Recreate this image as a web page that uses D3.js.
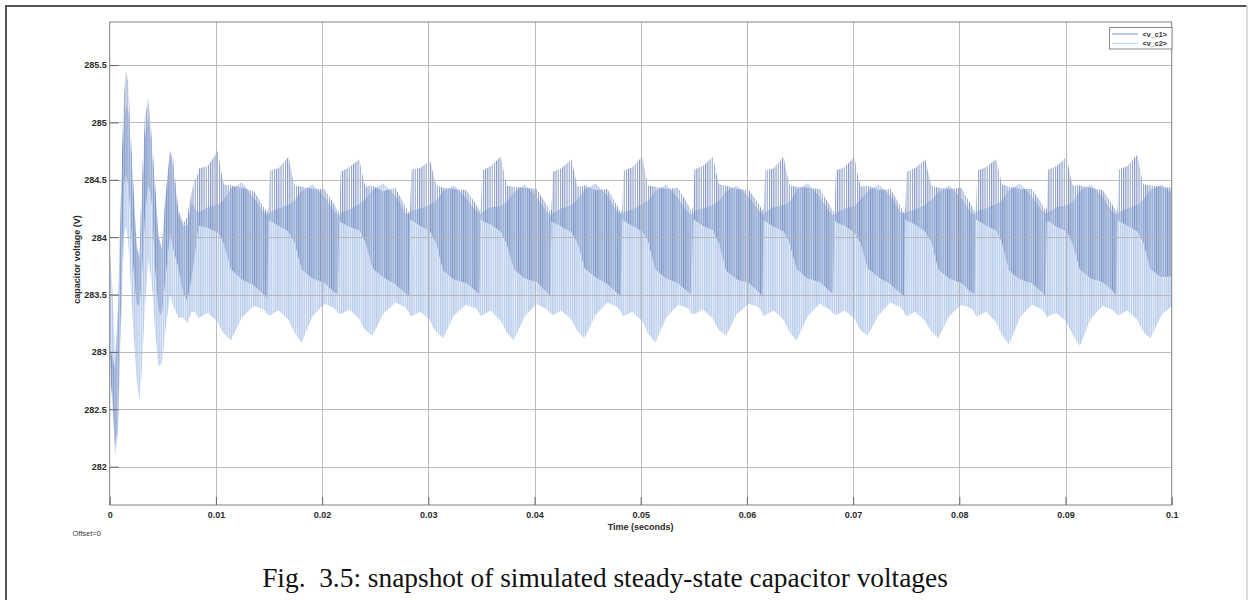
<!DOCTYPE html>
<html><head><meta charset="utf-8">
<script src="https://cdn.jsdelivr.net/npm/d3@7"></script>
<style>body{margin:0;background:#fff} svg{display:block}</style>
</head><body>
<svg id="c" width="1249" height="600"></svg>
<script>
// ---- data (envelopes of the switching ripple) ----
const time = [
 0.00000,0.00026,0.00050,0.00078,0.00097,0.00116,0.00135,0.00153,0.00175,0.00191,0.00222,0.00254,0.00279,0.00301,
 0.00332,0.00363,0.00395,0.00427,0.00458,0.00490,0.00521,0.00568,0.00599,0.00646,0.00693,0.00731,0.00772,0.00803,
 0.00830,0.00844,0.00924,0.01018,0.01047,0.01075,0.01141,0.01244,0.01357,0.01451,0.01484,
 0.01496,0.01510,0.01590,0.01684,0.01713,0.01741,0.01807,0.01910,0.02023,0.02117,0.02150,
 0.02162,0.02176,0.02256,0.02350,0.02379,0.02407,0.02473,0.02576,0.02689,0.02783,0.02816,
 0.02828,0.02842,0.02922,0.03016,0.03045,0.03073,0.03139,0.03242,0.03355,0.03449,0.03482,
 0.03494,0.03508,0.03588,0.03682,0.03711,0.03739,0.03805,0.03908,0.04021,0.04115,0.04148,
 0.04160,0.04174,0.04254,0.04348,0.04377,0.04405,0.04471,0.04574,0.04687,0.04781,0.04814,
 0.04826,0.04840,0.04920,0.05014,0.05043,0.05071,0.05137,0.05240,0.05353,0.05447,0.05480,
 0.05492,0.05506,0.05586,0.05680,0.05709,0.05737,0.05803,0.05906,0.06019,0.06113,0.06146,
 0.06158,0.06172,0.06252,0.06346,0.06375,0.06403,0.06469,0.06572,0.06685,0.06779,0.06812,
 0.06825,0.06839,0.06919,0.07013,0.07042,0.07070,0.07136,0.07239,0.07352,0.07446,0.07479,
 0.07491,0.07505,0.07585,0.07679,0.07708,0.07736,0.07802,0.07905,0.08018,0.08112,0.08145,
 0.08157,0.08171,0.08251,0.08345,0.08374,0.08402,0.08468,0.08571,0.08684,0.08778,0.08811,
 0.08823,0.08837,0.08917,0.09011,0.09040,0.09068,0.09134,0.09237,0.09350,0.09444,0.09477,
 0.09489,0.09503,0.09583,0.09677,0.09706,0.09734,0.09800,0.09903,0.10000
];
const vc1Max = [
 283.05,282.95,282.85,283.30,284.05,284.75,285.25,285.45,285.35,285.05,284.47,283.90,283.85,284.47,
 285.05,285.21,284.90,284.47,284.03,283.90,284.32,284.76,284.67,284.24,284.12,284.18,284.40,284.50,
 284.55,284.60,284.62,284.75,284.58,284.46,284.45,284.43,284.40,284.26,284.22,
 284.25,284.58,284.60,284.70,284.56,284.45,284.44,284.42,284.42,284.28,284.22,
 284.24,284.57,284.61,284.68,284.55,284.44,284.45,284.40,284.43,284.27,284.21,
 284.25,284.59,284.60,284.67,284.56,284.46,284.43,284.42,284.41,284.29,284.23,
 284.26,284.58,284.62,284.70,284.57,284.45,284.44,284.43,284.42,284.28,284.22,
 284.24,284.57,284.60,284.68,284.55,284.44,284.45,284.41,284.42,284.27,284.21,
 284.25,284.58,284.61,284.70,284.56,284.45,284.44,284.42,284.43,284.28,284.22,
 284.26,284.59,284.62,284.70,284.57,284.46,284.45,284.42,284.41,284.29,284.23,
 284.25,284.58,284.60,284.70,284.56,284.45,284.44,284.43,284.42,284.28,284.22,
 284.24,284.58,284.61,284.70,284.55,284.44,284.45,284.41,284.42,284.27,284.21,
 284.25,284.57,284.60,284.68,284.56,284.45,284.43,284.42,284.43,284.28,284.22,
 284.26,284.58,284.61,284.68,284.57,284.46,284.44,284.42,284.42,284.29,284.23,
 284.25,284.59,284.62,284.70,284.56,284.45,284.45,284.43,284.41,284.28,284.22,
 284.25,284.59,284.62,284.72,284.57,284.46,284.45,284.44,284.43
];
const vc1Min = [
 282.85,282.55,282.17,282.35,283.05,283.75,284.45,284.55,284.45,284.25,283.74,283.42,283.40,283.60,
 284.18,284.47,284.30,283.74,283.37,283.31,283.60,284.03,283.89,283.74,283.50,283.45,283.65,283.85,
 284.05,284.10,284.08,284.04,284.00,283.94,283.72,283.63,283.58,283.50,283.47,
 284.15,284.14,284.10,284.05,284.00,283.95,283.72,283.64,283.60,283.52,283.50,
 284.14,284.13,284.09,284.06,284.01,283.96,283.73,283.65,283.59,283.51,283.49,
 284.15,284.15,284.10,284.05,284.00,283.95,283.71,283.63,283.60,283.53,283.50,
 284.16,284.14,284.11,284.05,283.99,283.94,283.72,283.64,283.61,283.52,283.48,
 284.14,284.13,284.09,284.04,284.00,283.95,283.73,283.65,283.59,283.51,283.49,
 284.15,284.14,284.10,284.05,284.01,283.96,283.72,283.64,283.60,283.52,283.50,
 284.15,284.15,284.10,284.06,284.00,283.95,283.71,283.63,283.60,283.52,283.48,
 284.14,284.14,284.09,284.05,284.00,283.94,283.72,283.64,283.61,283.53,283.50,
 284.15,284.13,284.10,284.04,283.99,283.95,283.73,283.65,283.59,283.51,283.49,
 284.16,284.14,284.11,284.05,284.00,283.96,283.72,283.64,283.60,283.52,283.50,
 284.15,284.15,284.10,284.06,284.01,283.95,283.71,283.63,283.60,283.52,283.48,
 284.14,284.14,284.09,284.05,284.00,283.94,283.72,283.64,283.61,283.53,283.49,
 284.15,284.14,284.10,284.05,284.00,283.95,283.72,283.65,283.66
];
const vc2Max = [
 283.90,283.55,282.95,283.40,284.10,284.60,285.00,285.15,285.10,284.90,284.40,283.95,283.80,284.30,
 284.85,285.05,284.80,284.40,284.00,283.90,284.30,284.75,284.60,284.20,284.10,284.10,284.30,284.25,
 284.22,284.22,284.26,284.28,284.30,284.33,284.42,284.48,284.34,284.22,284.19,
 284.20,284.22,284.25,284.28,284.30,284.32,284.40,284.46,284.35,284.22,284.20,
 284.19,284.21,284.24,284.29,284.31,284.33,284.41,284.47,284.36,284.21,284.20,
 284.21,284.23,284.25,284.28,284.30,284.32,284.40,284.45,284.34,284.23,284.21,
 284.20,284.22,284.26,284.27,284.29,284.31,284.39,284.46,284.35,284.22,284.19,
 284.20,284.21,284.25,284.28,284.30,284.33,284.41,284.47,284.36,284.22,284.20,
 284.21,284.22,284.24,284.29,284.31,284.32,284.40,284.46,284.34,284.21,284.20,
 284.20,284.23,284.25,284.28,284.30,284.32,284.40,284.45,284.35,284.23,284.21,
 284.19,284.22,284.26,284.28,284.29,284.31,284.41,284.47,284.35,284.22,284.19,
 284.20,284.21,284.25,284.27,284.30,284.33,284.40,284.46,284.36,284.22,284.20,
 284.21,284.22,284.24,284.28,284.31,284.32,284.39,284.45,284.34,284.21,284.20,
 284.20,284.23,284.25,284.29,284.30,284.32,284.41,284.47,284.35,284.23,284.21,
 284.20,284.22,284.26,284.28,284.29,284.31,284.40,284.46,284.35,284.22,284.19,
 284.21,284.22,284.25,284.28,284.30,284.33,284.41,284.46,284.38
];
const vc2Min = [
 283.00,282.60,282.09,282.30,282.95,283.50,284.00,284.10,283.95,283.70,283.20,282.75,282.58,282.80,
 283.40,283.80,283.60,283.20,282.87,282.90,283.15,283.50,283.40,283.30,283.30,283.25,283.35,283.35,
 283.30,283.30,283.34,283.26,283.20,283.16,283.10,283.30,283.40,283.37,283.33,
 283.32,283.32,283.36,283.28,283.22,283.17,283.08,283.31,283.42,283.38,283.34,
 283.33,283.33,283.37,283.29,283.23,283.19,283.14,283.33,283.43,283.39,283.35,
 283.32,283.31,283.35,283.28,283.21,283.18,283.12,283.32,283.41,283.38,283.33,
 283.31,283.32,283.36,283.27,283.22,283.17,283.10,283.31,283.42,283.37,283.34,
 283.33,283.32,283.36,283.28,283.23,283.18,283.12,283.32,283.43,283.39,283.35,
 283.32,283.31,283.35,283.27,283.21,283.16,283.08,283.30,283.41,283.38,283.33,
 283.33,283.33,283.37,283.29,283.23,283.19,283.14,283.33,283.42,283.39,283.34,
 283.31,283.32,283.36,283.28,283.22,283.17,283.10,283.31,283.42,283.37,283.33,
 283.33,283.32,283.36,283.29,283.23,283.19,283.14,283.32,283.43,283.39,283.35,
 283.32,283.31,283.35,283.27,283.22,283.18,283.12,283.31,283.41,283.38,283.34,
 283.31,283.31,283.35,283.26,283.20,283.15,283.06,283.30,283.41,283.37,283.33,
 283.30,283.31,283.34,283.26,283.20,283.15,283.05,283.29,283.40,283.37,283.33,
 283.32,283.32,283.36,283.28,283.22,283.17,283.12,283.32,283.40
];
const seriesNames = ["<v_c1>", "<v_c2>"];
const yTicks = [282, 282.5, 283, 283.5, 284, 284.5, 285, 285.5];
const yTickLabels = ["282", "282.5", "283", "283.5", "284", "284.5", "285", "285.5"];
const xTicks = [0, 0.01, 0.02, 0.03, 0.04, 0.05, 0.06, 0.07, 0.08, 0.09, 0.1];
const xTickLabels = ["0", "0.01", "0.02", "0.03", "0.04", "0.05", "0.06", "0.07", "0.08", "0.09", "0.1"];
const xTitle = "Time (seconds)";
const yTitle = "capacitor voltage (V)";
const caption = "Fig.  3.5: snapshot of simulated steady-state capacitor voltages";

// ---- drawing ----
const svg = d3.select("#c");
const L = 109.7, R = 1171.7, T = 22, B = 505;
const x = d3.scaleLinear().domain([0, 0.1]).range([L, R]);
const y = d3.scaleLinear().domain([281.666, 285.875]).range([B, T]);
const C1 = "#7289bc", C2 = "#b6cbeb";

// outer page frame
svg.append("line").attr("x1", 6).attr("x2", 6).attr("y1", 5).attr("y2", 600).attr("stroke", "#555").attr("stroke-width", 2);
svg.append("line").attr("x1", 5).attr("x2", 1247).attr("y1", 6).attr("y2", 6).attr("stroke", "#555").attr("stroke-width", 2);
svg.append("line").attr("x1", 1247).attr("x2", 1247).attr("y1", 5).attr("y2", 600).attr("stroke", "#cfcfcf").attr("stroke-width", 1.5);

const defs = svg.append("defs");
defs.append("clipPath").attr("id", "plotclip").append("rect")
  .attr("x", L).attr("y", T).attr("width", R - L).attr("height", B - T);
function stripes(id, color, w, off, bg, op) {
  const p = defs.append("pattern").attr("id", id).attr("patternUnits", "userSpaceOnUse")
    .attr("x", off).attr("y", 0).attr("width", 2.2).attr("height", 20);
  if (bg) p.append("rect").attr("width", 2.2).attr("height", 20).attr("fill", bg);
  p.append("rect").attr("x", 0).attr("width", w).attr("height", 20).attr("fill", color).attr("fill-opacity", op);
}
stripes("p2", C2, 1.2, 0, "#e6eef9", 1);
stripes("p1", C1, 1.1, 1.1, null, 0.85);

const rows = time.map((t, i) => ({ t, a: vc1Max[i], b: vc1Min[i], c: vc2Max[i], d: vc2Min[i] }));
const plot = svg.append("g").attr("clip-path", "url(#plotclip)");
plot.append("path").datum(rows)
  .attr("d", d3.area().x(d => x(d.t)).y0(d => y(d.d)).y1(d => y(d.c)))
  .attr("fill", "url(#p2)");
plot.append("path").datum(rows)
  .attr("d", d3.area().x(d => x(d.t)).y0(d => y(d.b)).y1(d => y(d.a)))
  .attr("fill", "url(#p1)");

// grid on top
const grid = svg.append("g").attr("stroke", "#b4b4b4").attr("stroke-width", 1).attr("opacity", 0.9);
grid.selectAll("line.h").data(yTicks).join("line").attr("class", "h")
  .attr("x1", L).attr("x2", R).attr("y1", d => Math.round(y(d)) + 0.5).attr("y2", d => Math.round(y(d)) + 0.5);
grid.selectAll("line.v").data(xTicks.slice(1, -1)).join("line").attr("class", "v")
  .attr("y1", T).attr("y2", B).attr("x1", d => Math.round(x(d)) + 0.5).attr("x2", d => Math.round(x(d)) + 0.5);

// axes box
svg.append("rect").attr("x", L).attr("y", T).attr("width", R - L).attr("height", B - T)
  .attr("fill", "none").attr("stroke", "#808080").attr("stroke-width", 1);

const fontAx = "'Liberation Sans', Arial, sans-serif";
const yAxis = svg.append("g").attr("transform", `translate(${L},0)`)
  .call(d3.axisLeft(y).tickValues(yTicks).tickFormat((d, i) => yTickLabels[i]).tickSize(-9).tickPadding(3));
const xAxis = svg.append("g").attr("transform", `translate(0,${B})`)
  .call(d3.axisBottom(x).tickValues(xTicks).tickFormat((d, i) => xTickLabels[i]).tickSize(-8).tickPadding(7));
[yAxis, xAxis].forEach(g => {
  g.select(".domain").remove();
  g.selectAll(".tick line").attr("stroke", "#666");
  g.selectAll(".tick text").attr("font-family", fontAx).attr("font-size", 9)
    .attr("font-weight", "bold").attr("fill", "#2a2a2a");
});

svg.append("text").attr("x", (L + R) / 2).attr("y", 530).attr("text-anchor", "middle")
  .attr("font-family", fontAx).attr("font-size", 9).attr("font-weight", "bold").attr("fill", "#2a2a2a").text(xTitle);
svg.append("text").attr("transform", `translate(80,${(T + B) / 2 - 4}) rotate(-90)`).attr("text-anchor", "middle")
  .attr("font-family", fontAx).attr("font-size", 9).attr("font-weight", "bold").attr("fill", "#2a2a2a").text(yTitle);
svg.append("text").attr("x", 72.5).attr("y", 535.5).attr("font-family", fontAx).attr("font-size", 7.5)
  .attr("fill", "#3a3a3a").text("Offset=0");

// legend
const lg = svg.append("g");
lg.append("rect").attr("x", 1109.5).attr("y", 27.5).attr("width", 62.5).attr("height", 21.5)
  .attr("fill", "#fff").attr("stroke", "#8a8a8a");
[C1, C2].forEach((c, i) => {
  const yy = 34 + i * 9.3;
  lg.append("line").attr("x1", 1112).attr("x2", 1138).attr("y1", yy).attr("y2", yy)
    .attr("stroke", i === 0 ? "#7f95c4" : "#bcd0ec").attr("stroke-width", 1);
  lg.append("text").attr("x", 1142.5).attr("y", yy + 2.6).attr("font-family", fontAx).attr("font-size", 7.2)
    .attr("font-weight", "bold").attr("fill", "#333").text(seriesNames[i]);
});

// caption
const cap = svg.append("text").attr("x", 605).attr("y", 587).attr("text-anchor", "middle")
  .attr("font-family", "'Liberation Serif', 'Times New Roman', serif").attr("font-size", 22)
  .attr("fill", "#111").style("white-space", "pre").text(caption);
const w0 = cap.node().getComputedTextLength();
cap.attr("font-size", 22 * 686 / w0);
</script>
</body></html>
